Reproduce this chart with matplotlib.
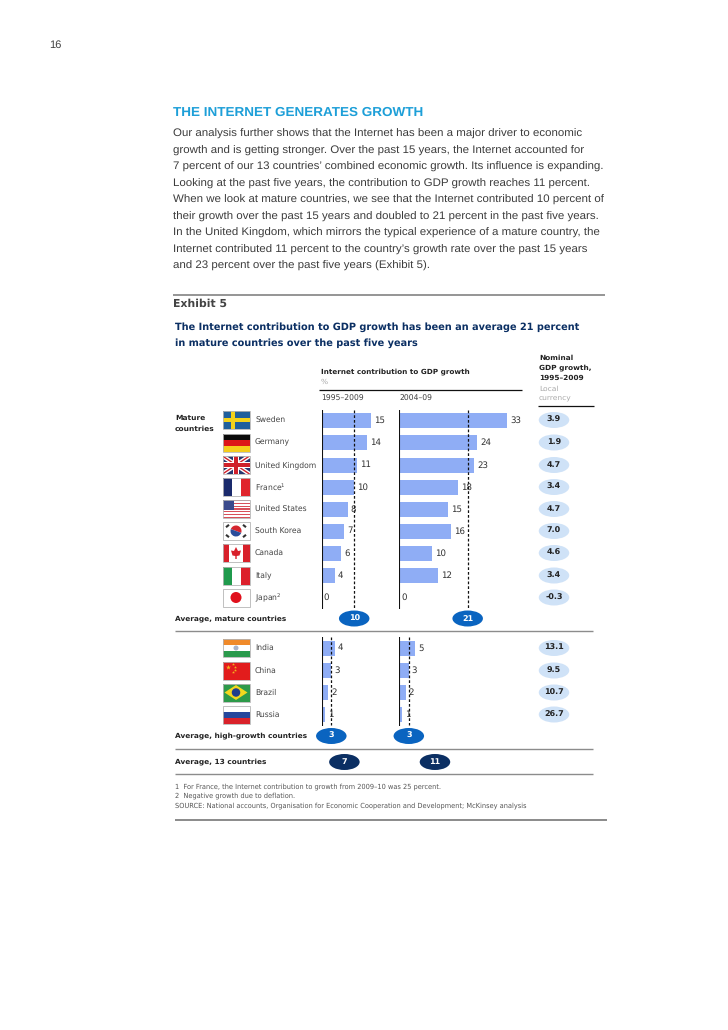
import numpy as np
import matplotlib
matplotlib.use("Agg")
import matplotlib.pyplot as plt
from matplotlib.patches import Rectangle, Ellipse, Polygon, Circle, Wedge

plt.rcParams["text.hinting"] = "none"

W, H = 728, 1030

mature = ["Sweden", "Germany", "United Kingdom", "France$^{1}$", "United States",
          "South Korea", "Canada", "Italy", "Japan$^{2}$"]
growth = ["India", "China", "Brazil", "Russia"]
mature_9509 = [15, 14, 11, 10, 8, 7, 6, 4, 0]
mature_0409 = [33, 24, 23, 18, 15, 16, 10, 12, 0]
mature_gdp = ["3.9", "1.9", "4.7", "3.4", "4.7", "7.0", "4.6", "3.4", "-0.3"]
growth_9509 = [4, 3, 2, 1]
growth_0409 = [5, 3, 2, 1]
growth_gdp = ["13.1", "9.5", "10.7", "26.7"]
avg_mature = [10, 21]
avg_growth = [3, 3]
avg_all = [7, 11]

body = ["Our analysis further shows that the Internet has been a major driver to economic",
        "growth and is getting stronger. Over the past 15 years, the Internet accounted for",
        "7 percent of our 13 countries\u2019 combined economic growth. Its influence is expanding.",
        "Looking at the past five years, the contribution to GDP growth reaches 11 percent.",
        "When we look at mature countries, we see that the Internet contributed 10 percent of",
        "their growth over the past 15 years and doubled to 21 percent in the past five years.",
        "In the United Kingdom, which mirrors the typical experience of a mature country, the",
        "Internet contributed 11 percent to the country\u2019s growth rate over the past 15 years",
        "and 23 percent over the past five years (Exhibit 5)."]

mature_y = [420, 442.5, 465, 487, 509, 531, 553, 575.5, 597.5]
growth_y = [648, 670.5, 692.5, 714.5]

NAVY = "#0b2f63"; BLUE = "#0a64c0"; PALE = "#cfe2f7"; BAR = "#8fadf5"
TXT = "#333333"; GREY = "#8c8c8c"
SANS = "DejaVu Sans"; HEL = "Liberation Sans"
SCALE = 3.27
BASE_L, BASE_R = 321.5, 399

fig = plt.figure(figsize=(W / 100, H / 100), dpi=100, facecolor="white")
page = fig.add_axes([0, 0, 1, 1])
page.set_xlim(0, W); page.set_ylim(H, 0); page.axis("off")

def panel(base):
    ax = fig.add_axes([base / W, 0, 120 / W, 1], facecolor="none")
    ax.set_xlim(0, 120 / SCALE); ax.set_ylim(H, 0); ax.axis("off")
    return ax
axL = panel(BASE_L); axR = panel(BASE_R)

def T(x, y, s, size=5.3, c=TXT, w="normal", ha="left", f=SANS, **k):
    return page.text(x, y, s, fontsize=size, color=c, fontweight=w, ha=ha, va="center",
                     family=f, **k)

def HL(y, x0, x1, c=GREY, lw=1.0):
    page.plot([x0, x1], [y, y], color=c, lw=lw, solid_capstyle="butt")

# --- page text
T(49, 45, "16", size=8, c="#444444", f=HEL)
T(173, 113, "THE INTERNET GENERATES GROWTH", size=9.7, c="#1d9fd8", w="bold", f=HEL)
for i, line in enumerate(body):
    T(173, 134 + 16.5 * i, line, size=8.25, c="#3c3c3c", f=HEL)
HL(295, 173, 605, lw=1.3)
T(173, 304, "Exhibit 5", size=7.8, c="#444444", w="bold")
T(175, 327.5, "The Internet contribution to GDP growth has been an average 21 percent", size=7.0, c=NAVY, w="bold")
T(175, 343, "in mature countries over the past five years", size=7.0, c=NAVY, w="bold")

# --- headers
T(321, 372, "Internet contribution to GDP growth", size=5.2, c="#222222", w="bold")
T(321, 381.5, "%", size=5.4, c="#aaaaaa")
HL(389.5, 319, 522, c="#111111", lw=0.9)
T(321, 399, "1995\u20132009", size=5.5, c="#444444")
T(399, 399, "2004\u201309", size=5.5, c="#444444")
for y, s in zip([358, 368, 378], ["Nominal", "GDP growth,", "1995\u20132009"]):
    T(539, y, s, size=5.3, c="#222222", w="bold")
T(539, 389, "Local", size=5.4, c="#aaaaaa")
T(539, 399, "currency", size=5.4, c="#aaaaaa")
HL(406, 538, 594, c="#111111", lw=0.9)
T(175, 418, "Mature", size=5.4, c="#222222", w="bold")
T(175, 429, "countries", size=5.4, c="#222222", w="bold")

# --- flags
FX, FW, FH = 222.5, 27, 18
def R(x, y, w, h, c, z=3):
    page.add_patch(Rectangle((x, y), w, h, fc=c, ec="none", zorder=z))
def flag(name, cy):
    x, y = FX, cy - FH / 2
    w, h = FW, FH
    box = Rectangle((x, y), w, h, transform=page.transData)
    if name == "Sweden":
        R(x, y, w, h, "#1f5f9c"); R(x + 8, y, 4, h, "#f3d21a"); R(x, y + 7, w, 4, "#f3d21a")
    elif name == "Germany":
        R(x, y, w, h / 3, "#0a0a0a"); R(x, y + h / 3, w, h / 3, "#dd1518"); R(x, y + 2 * h / 3, w, h / 3, "#f5cd1d")
    elif name == "UK":
        R(x, y, w, h, "#27366f")
        for a, b in [((x, y), (x + w, y + h)), ((x, y + h), (x + w, y))]:
            for col, lw, z in (("white", 3, 4), ("#d0202a", 1, 5)):
                ln, = page.plot([a[0], b[0]], [a[1], b[1]], color=col, lw=lw, zorder=z, solid_capstyle="butt")
                ln.set_clip_path(box)
        R(x + w / 2 - 3, y, 6, h, "white", 6); R(x, y + h / 2 - 3, w, 6, "white", 6)
        R(x + w / 2 - 1.7, y, 3.4, h, "#d0202a", 7); R(x, y + h / 2 - 1.7, w, 3.4, "#d0202a", 7)
    elif name == "France":
        R(x, y, w / 3, h, "#1a2a6c"); R(x + w / 3, y, w / 3, h, "white"); R(x + 2 * w / 3, y, w / 3, h, "#e0242c")
    elif name == "US":
        for i in range(13):
            R(x, y + i * h / 13, w, h / 13, "#d8505a" if i % 2 == 0 else "white")
        R(x, y, w * 0.42, h * 0.54, "#3a4a8c", 4)
    elif name == "Korea":
        R(x, y, w, h, "white")
        page.add_patch(Wedge((x + w / 2, cy), 5.5, 200, 20, fc="#d5262f", ec="none", zorder=4))
        page.add_patch(Wedge((x + w / 2, cy), 5.5, 20, 200, fc="#2a4d9c", ec="none", zorder=4))
        for dx, dy in [(-8.5, -5), (8.5, -5), (-8.5, 5), (8.5, 5)]:
            page.plot([x + w / 2 + dx - 1.5, x + w / 2 + dx + 1.5],
                      [cy + dy + (1.2 if dx * dy > 0 else -1.2), cy + dy - (1.2 if dx * dy > 0 else -1.2)],
                      color="#333333", lw=1.5, zorder=4, solid_capstyle="butt")
    elif name == "Canada":
        R(x, y, w, h, "white"); R(x, y, w / 4, h, "#d8202a"); R(x + 3 * w / 4, y, w / 4, h, "#d8202a")
        page.add_patch(Polygon([(x + w / 2, cy - 6), (x + w / 2 + 2, cy - 2), (x + w / 2 + 5, cy - 2.5),
                                (x + w / 2 + 3.5, cy + 2.5), (x + w / 2 + .7, cy + 3), (x + w / 2 + .7, cy + 6),
                                (x + w / 2 - .7, cy + 6), (x + w / 2 - .7, cy + 3), (x + w / 2 - 3.5, cy + 2.5),
                                (x + w / 2 - 5, cy - 2.5), (x + w / 2 - 2, cy - 2)],
                               fc="#d8202a", ec="none", zorder=4))
    elif name == "Italy":
        R(x, y, w / 3, h, "#1f9a4c"); R(x + w / 3, y, w / 3, h, "white"); R(x + 2 * w / 3, y, w / 3, h, "#dc1f2b")
    elif name == "Japan":
        R(x, y, w, h, "white")
        page.add_patch(Ellipse((x + w / 2, cy), 11, 11, fc="#e0101c", ec="none", zorder=4))
    elif name == "India":
        R(x, y, w, h / 3, "#f08a2a"); R(x, y + h / 3, w, h / 3, "white"); R(x, y + 2 * h / 3, w, h / 3, "#2a9a4c")
        page.add_patch(Ellipse((x + w / 2, cy), 5, 5, fc="#a9b3c9", ec="none", zorder=4))
    elif name == "China":
        R(x, y, w, h, "#e21c1c")
        for dx, dy, s in [(5.5, 5, 14), (10, 2.5, 5), (12, 5, 5), (12, 8, 5), (10, 10, 5)]:
            page.scatter([x + dx], [y + dy], s=s, marker="*", c="#f5b41e", linewidths=0, zorder=4)
    elif name == "Brazil":
        R(x, y, w, h, "#2d9a4a")
        page.add_patch(Polygon([(x + 2, cy), (x + w / 2, y + 1.5), (x + w - 2, cy), (x + w / 2, y + h - 1.5)],
                               fc="#f3d81e", ec="none", zorder=4))
        page.add_patch(Ellipse((x + w / 2, cy), 8.5, 8.5, fc="#1f3f8c", ec="none", zorder=5))
    elif name == "Russia":
        R(x, y, w, h / 3, "white"); R(x, y + h / 3, w, h / 3, "#24469c"); R(x, y + 2 * h / 3, w, h / 3, "#d9222a")
    page.add_patch(Rectangle((x, y), w, h, fc="none", ec="#b5b5b5", lw=0.6, zorder=9))

mature_flags = ["Sweden", "Germany", "UK", "France", "US", "Korea", "Canada", "Italy", "Japan"]
growth_flags = ["India", "China", "Brazil", "Russia"]

# --- rows
def pill(x, y, s, fc, tc, size=5.8):
    page.add_patch(Ellipse((x, y), 30.5, 16, fc=fc, ec="none", zorder=8))
    page.text(x, y, s, fontsize=size, color=tc, fontweight="bold", ha="center", va="center",
              family=SANS, zorder=9)

def rows(names, flags, ys, v1, v2, gdp):
    for n, fl, y, a, b, g in zip(names, flags, ys, v1, v2, gdp):
        flag(fl, y)
        T(255, y, n, size=5.5, c="#444444")
        pill(554, y, g, PALE, "#222222")
    for ax, vals in ((axL, v1), (axR, v2)):
        ax.barh(ys, vals, height=15, color=BAR, zorder=2)
        for y, v in zip(ys, vals):
            ax.text(v + 3.0 / SCALE if v else 0.6, y, str(v), fontsize=6.2, color="#333333",
                    va="center", ha="left", family=SANS, zorder=5)

rows(mature, mature_flags, mature_y, mature_9509, mature_0409, mature_gdp)
rows(growth, growth_flags, growth_y, growth_9509, growth_0409, growth_gdp)

def spine(ax, avg, y0, y1):
    ax.plot([0, 0], [y0, y1], color="#111111", lw=1.5, zorder=6, solid_capstyle="butt")
    ax.plot([avg, avg], [y0, y1 - 1], color="#111111", lw=0.9, ls=(0, (2.2, 1.6)), zorder=4)

spine(axL, avg_mature[0], 410, 609); spine(axR, avg_mature[1], 410, 609)
spine(axL, avg_growth[0], 637, 726); spine(axR, avg_growth[1], 637, 726)

def avg_row(label, vals, y, fc):
    T(175, y, label, size=5.3, c="#222222", w="bold")
    pill(BASE_L + vals[0] * SCALE, y, str(vals[0]), fc, "white")
    pill(BASE_R + vals[1] * SCALE, y, str(vals[1]), fc, "white")

avg_row("Average, mature countries", avg_mature, 618.5, BLUE)
avg_row("Average, high-growth countries", avg_growth, 736, BLUE)
avg_row("Average, 13 countries", avg_all, 762, NAVY)

HL(631, 175, 593); HL(749, 175, 593); HL(774, 175, 593)
HL(820, 175, 607, c="#777777", lw=1.2)

T(175, 786.5, "1  For France, the Internet contribution to growth from 2009\u201310 was 25 percent.", size=4.75, c="#555555")
T(175, 795.5, "2  Negative growth due to deflation.", size=4.75, c="#555555")
T(175, 806, "SOURCE: National accounts, Organisation for Economic Cooperation and Development; McKinsey analysis", size=4.75, c="#555555")

fig.savefig("out.png", dpi=100, facecolor="white")
